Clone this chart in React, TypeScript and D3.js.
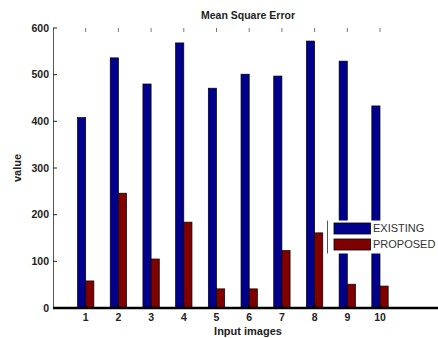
import React from "react";
import * as d3 from "d3";

const categories = ["1", "2", "3", "4", "5", "6", "7", "8", "9", "10"];
const existing = [408, 536, 480, 568, 471, 501, 497, 572, 529, 433];
const proposed = [58, 246, 105, 184, 41, 41, 123, 161, 51, 47];
const yTicks = [0, 100, 200, 300, 400, 500, 600];
const seriesNames = ["EXISTING", "PROPOSED"];
const seriesColors = ["#00008c", "#800000"];

const W = 438;
const H = 338;

export default function App() {
  const x = d3.scaleLinear().domain([0, 12]).range([53, 53 + 12 * 32.7]);
  const y = d3.scaleLinear().domain([0, 600]).range([308, 28]);
  const bw = x(0.25) - x(0);
  const font = "'Liberation Sans', Arial, sans-serif";

  return (
    <svg
      width={W}
      height={H}
      style={{ position: "fixed", left: 0, top: 0, background: "#fff" }}
      fontFamily={font}
    >
      <rect x={0} y={0} width={W} height={H} fill="#fff" />
      {/* bars */}
      {categories.map((c, i) => {
        const cx = x(i + 1);
        return (
          <g key={c}>
            <rect
              x={cx - bw}
              y={y(existing[i])}
              width={bw}
              height={y(0) - y(existing[i])}
              fill={seriesColors[0]}
              stroke="#000"
              strokeWidth={0.7}
            />
            <rect
              x={cx}
              y={y(proposed[i])}
              width={bw}
              height={y(0) - y(proposed[i])}
              fill={seriesColors[1]}
              stroke="#000"
              strokeWidth={0.7}
            />
          </g>
        );
      })}
      {/* y axis */}
      <line x1={53.5} x2={53.5} y1={y(600)} y2={y(0)} stroke="#555" strokeWidth={1} />
      {yTicks.map((t) => (
        <g key={t}>
          <line x1={53} x2={57} y1={y(t)} y2={y(t)} stroke="#222" strokeWidth={1} />
          <text
            x={49}
            y={y(t)}
            dy="0.35em"
            textAnchor="end"
            fontSize={10.5}
            fontWeight="bold"
            fill="#222"
          >
            {t}
          </text>
        </g>
      ))}
      {/* top ticks */}
      {categories.map((c, i) => (
        <line key={"tt" + c} x1={x(i + 1)} x2={x(i + 1)} y1={28} y2={32} stroke="#777" strokeWidth={1} />
      ))}
      {/* x axis */}
      <line x1={53} x2={W} y1={y(0)} y2={y(0)} stroke="#000" strokeWidth={2.6} />
      {categories.map((c, i) => (
        <g key={"xt" + c}>
          <line x1={x(i + 1)} x2={x(i + 1)} y1={303} y2={308} stroke="#000" strokeWidth={1.2} />
          <text
            x={x(i + 1)}
            y={317.5}
            dy="0.35em"
            textAnchor="middle"
            fontSize={10.5}
            fontWeight="bold"
            fill="#222"
          >
            {c}
          </text>
        </g>
      ))}
      {/* labels */}
      <text x={248} y={19} textAnchor="middle" fontSize={10.5} fontWeight="bold" fill="#222">
        Mean Square Error
      </text>
      <text x={248} y={331} dy="0.35em" textAnchor="middle" fontSize={11} fontWeight="bold" fill="#222">
        Input images
      </text>
      <text
        transform={`translate(17.5,168) rotate(-90)`}
        textAnchor="middle"
        dy="0.35em"
        fontSize={11}
        fontWeight="bold"
        fill="#222"
      >
        value
      </text>
      {/* legend */}
      <rect x={327.5} y={220.5} width={W} height={33} fill="#fff" />
      <line x1={327.5} x2={327.5} y1={220.5} y2={253.5} stroke="#555" strokeWidth={1} />
      {seriesNames.map((s, i) => (
        <g key={s}>
          <rect
            x={334}
            y={223 + i * 16}
            width={36.5}
            height={11}
            fill={seriesColors[i]}
            stroke="#000"
            strokeWidth={0.8}
          />
          <text x={373} y={228.5 + i * 16} dy="0.35em" fontSize={11} fill="#333">
            {s}
          </text>
        </g>
      ))}
    </svg>
  );
}
